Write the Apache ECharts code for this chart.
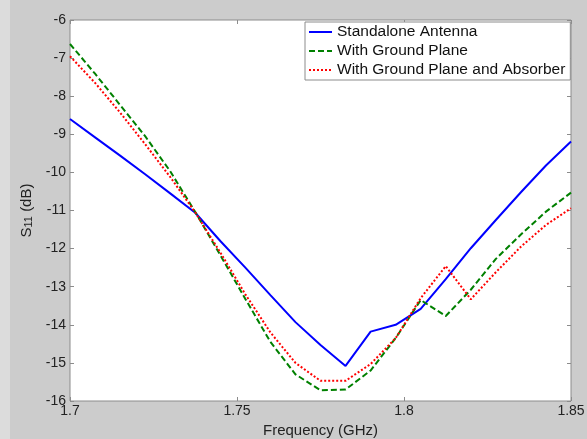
<!DOCTYPE html>
<html>
<head>
<meta charset="utf-8">
<script src="https://cdn.jsdelivr.net/npm/echarts@6/dist/echarts.min.js"></script>
<style>
html,body{margin:0;padding:0;background:#cccccc;}
#chart{width:587px;height:439px;}
</style>
</head>
<body>
<div id="chart"></div>
<script>
const freqGHz = [1.7, 1.7075, 1.715, 1.7225, 1.73, 1.7375, 1.745, 1.7525, 1.76, 1.7675, 1.775,
                 1.7825, 1.79, 1.7975, 1.805, 1.8125, 1.82, 1.8275, 1.835, 1.8425, 1.85];
const standaloneAntenna = [-8.6, -9.08, -9.56, -10.05, -10.55, -11.06, -11.8, -12.5, -13.22, -13.93, -14.53,
                           -15.08, -14.18, -14.0, -13.58, -12.8, -11.99, -11.25, -10.52, -9.82, -9.19];
const withGroundPlane = [-6.63, -7.41, -8.23, -9.05, -9.97, -11.04, -12.17, -13.32, -14.45, -15.3, -15.72,
                         -15.7, -15.2, -14.35, -13.35, -13.77, -13.08, -12.27, -11.63, -11.03, -10.53];
const withGroundPlaneAbsorber = [-6.95, -7.65, -8.43, -9.26, -10.12, -11.05, -12.1, -13.2, -14.2, -15.0, -15.47,
                                 -15.47, -15.03, -14.35, -13.3, -12.46, -13.33, -12.62, -11.95, -11.38, -10.94];
const seriesNames = ['Standalone Antenna', 'With Ground Plane', 'With Ground Plane and Absorber'];
const xTickLabels = ['1.7', '1.75', '1.8', '1.85'];

const chart = echarts.init(document.getElementById('chart'), null, {renderer: 'canvas'});
const font = 'Liberation Sans, Arial, sans-serif';
const pairs = (ys) => freqGHz.map((f, i) => [f, ys[i]]);
const xFmt = (v) => {
  const s = (Math.round(v * 100) / 100).toString();
  return xTickLabels.includes(s) ? s : '';
};
const tickStyle = {show: true, inside: true, length: 4, lineStyle: {color: '#8c8c8c', width: 1}};
const clear = 'rgba(0,0,0,0)';

chart.setOption({
  backgroundColor: '#cccccc',
  animation: false,
  graphic: [{type: 'rect', left: 0, top: 0, shape: {width: 10, height: 439}, style: {fill: '#dcdcdc'}, z: -1}],
  grid: {left: 70, right: 16, top: 20, bottom: 38, show: true, backgroundColor: '#ffffff',
         borderColor: '#8c8c8c', borderWidth: 1, containLabel: false, outerBoundsMode: 'none'},
  legend: {
    orient: 'vertical', left: 305, top: 22, padding: [2, 5, 2, 3], itemGap: 3,
    itemWidth: 23, itemHeight: 14, backgroundColor: '#ffffff', borderColor: '#8c8c8c', borderWidth: 1,
    itemStyle: {color: clear, borderColor: clear, borderWidth: 0, opacity: 0},
    textStyle: {fontFamily: font, fontSize: 15.5, color: '#111'}, data: seriesNames
  },
  xAxis: [{
    type: 'value', min: 1.7, max: 1.85, interval: 0.05,
    name: 'Frequency (GHz)', nameLocation: 'middle', nameGap: 21,
    nameTextStyle: {fontFamily: font, fontSize: 15, color: '#222'},
    axisLine: {show: false}, axisTick: tickStyle, splitLine: {show: false},
    axisLabel: {fontFamily: font, fontSize: 14, color: '#222', margin: 3, formatter: xFmt}
  }, {
    type: 'value', position: 'top', min: 1.7, max: 1.85, interval: 0.05,
    axisLine: {show: false}, axisTick: tickStyle, splitLine: {show: false}, axisLabel: {show: false}
  }],
  yAxis: [{
    type: 'value', min: -16, max: -6, interval: 1,
    name: '{a|S}{b|11}{a| (dB)}', nameLocation: 'middle', nameGap: 33, nameRotate: 90,
    nameTextStyle: {rich: {
      a: {fontFamily: font, fontSize: 15, color: '#222', lineHeight: 16, verticalAlign: 'top'},
      b: {fontFamily: font, fontSize: 11, color: '#222', lineHeight: 16, verticalAlign: 'bottom', padding: [6, 0, 0, 0]}
    }},
    axisLine: {show: false}, axisTick: tickStyle, splitLine: {show: false},
    axisLabel: {fontFamily: font, fontSize: 14, color: '#222', margin: 4}
  }, {
    type: 'value', position: 'right', min: -16, max: -6, interval: 1,
    axisLine: {show: false}, axisTick: tickStyle, splitLine: {show: false}, axisLabel: {show: false}
  }],
  series: [{
    name: seriesNames[0], type: 'line', data: pairs(standaloneAntenna), symbol: 'none',
    lineStyle: {color: '#0000ff', width: 2}, itemStyle: {color: '#0000ff'}
  }, {
    name: seriesNames[1], type: 'line', data: pairs(withGroundPlane), symbol: 'none',
    lineStyle: {color: '#008000', width: 2, type: [6, 3]}, itemStyle: {color: '#008000'}
  }, {
    name: seriesNames[2], type: 'line', data: pairs(withGroundPlaneAbsorber), symbol: 'none',
    lineStyle: {color: '#ff0000', width: 2, type: [2, 2]}, itemStyle: {color: '#ff0000'}
  }]
});
</script>
</body>
</html>
